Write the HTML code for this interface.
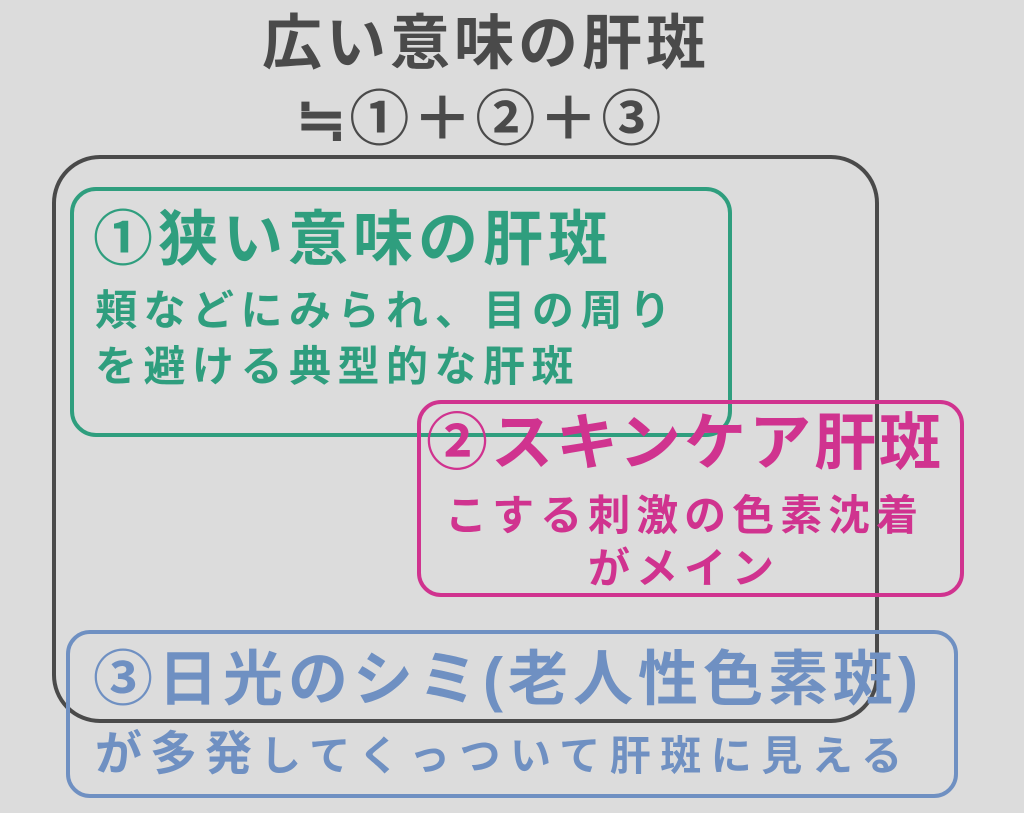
<!DOCTYPE html>
<html><head><meta charset="utf-8"><style>
html,body{margin:0;padding:0}
body{width:1024px;height:813px;background:#dcdcdc;position:relative;overflow:hidden;font-family:"Liberation Sans","Noto Sans CJK JP",sans-serif;font-weight:bold}
.b{position:absolute;box-sizing:border-box}
.t{position:absolute;white-space:nowrap;line-height:1}
</style></head><body>
<div class="t" style="left:262px;top:14px;font-size:60px;color:#4a4a4a;letter-spacing:4px">広い意味の肝斑</div>
<div class="t" style="left:296px;top:90px;font-size:60px;color:#4a4a4a;letter-spacing:3px">≒①＋②＋③</div>

<div class="b" style="left:52px;top:155px;width:827px;height:568px;border:4px solid #4a4a4a;border-radius:48px"></div>
<div class="b" style="left:70px;top:187px;width:662px;height:250px;border:4px solid #2f9e7e;border-radius:26px"></div>
<div class="b" style="left:417px;top:400px;width:547px;height:197px;border:4px solid #d0338f;border-radius:24px"></div>
<div class="b" style="left:66px;top:630px;width:892px;height:168px;border:4px solid #6f90c2;border-radius:24px"></div>

<div class="t" style="left:93px;top:210px;font-size:60px;color:#2f9e7e;letter-spacing:5px">①狭い意味の肝斑</div>
<div class="t" style="left:95px;top:290px;font-size:42px;color:#2f9e7e;letter-spacing:6.5px">頬などにみられ、目の周り</div>
<div class="t" style="left:95px;top:346px;font-size:42px;color:#2f9e7e;letter-spacing:6.5px">を避ける典型的な肝斑</div>

<div class="t" style="left:426px;top:413px;font-size:62px;color:#d0338f;letter-spacing:3px">②スキンケア肝斑</div>
<div class="t" style="left:445px;top:495px;font-size:42px;color:#d0338f;letter-spacing:6px">こする刺激の色素沈着</div>
<div class="t" style="left:588px;top:548px;font-size:42px;color:#d0338f;letter-spacing:6px">がメイン</div>

<div class="t" style="left:93px;top:650px;font-size:60px;color:#6f90c2;letter-spacing:5px">③日光のシミ(老人性色素斑)</div>
<div class="t" style="left:95px;top:730px;font-size:47px;color:#6f90c2;letter-spacing:8px">が多発<span style="font-size:41px;letter-spacing:9.5px">してくっついて肝斑に見える</span></div>
</body></html>
